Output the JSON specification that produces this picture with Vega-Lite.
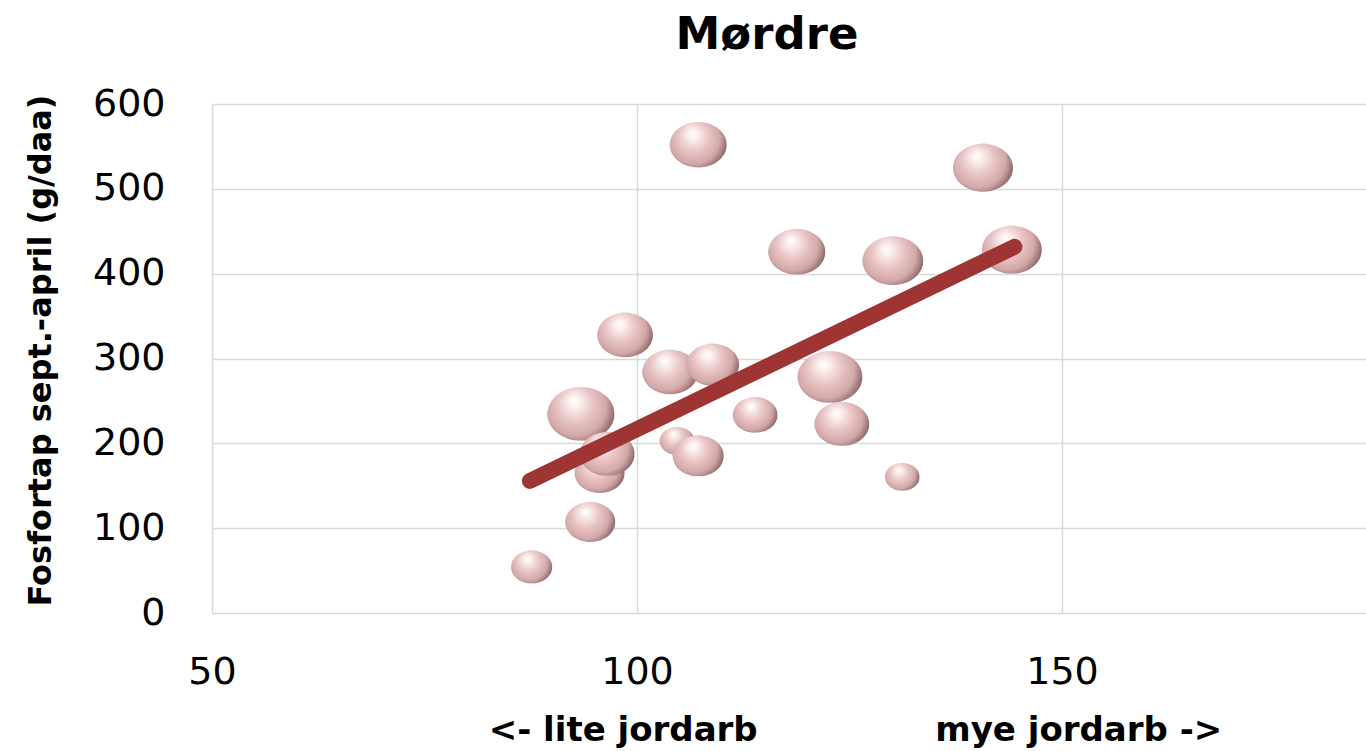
{
  "$schema": "https://vega.github.io/schema/vega-lite/v6.json",
  "autosize": {"type": "none"},
  "padding": {"left": 212, "top": 104, "right": 0, "bottom": 138},
  "width": 1154,
  "height": 509,
  "background": "white",
  "title": {
    "text": "Mørdre",
    "font": "DejaVu Sans",
    "fontSize": 45,
    "fontWeight": "bold",
    "color": "#000000",
    "frame": "group",
    "anchor": "middle",
    "offset": 27,
    "dx": -22
  },
  "config": {
    "view": {"stroke": null},
    "axis": {
      "labelFont": "DejaVu Sans",
      "labelFontSize": 38,
      "labelColor": "#000000",
      "titleFont": "DejaVu Sans",
      "titleFontWeight": "bold",
      "titleColor": "#000000",
      "gridColor": "#d9d9d9",
      "gridWidth": 1.5,
      "ticks": false,
      "tickSize": 0,
      "domain": false
    }
  },
  "datasets": {
    "bubbles": [
      {"x": 107.2, "y": 551.9, "s": 32.5},
      {"x": 140.7, "y": 524.8, "s": 36},
      {"x": 144.1, "y": 428.1, "s": 36},
      {"x": 130.1, "y": 415.1, "s": 37},
      {"x": 118.8, "y": 425.7, "s": 32.5},
      {"x": 98.6, "y": 327.8, "s": 31},
      {"x": 103.9, "y": 284.2, "s": 31},
      {"x": 108.9, "y": 292.5, "s": 28},
      {"x": 93.4, "y": 234.7, "s": 45},
      {"x": 122.7, "y": 278.3, "s": 42},
      {"x": 124.1, "y": 222.9, "s": 30},
      {"x": 113.9, "y": 233.5, "s": 20},
      {"x": 95.6, "y": 165.1, "s": 25},
      {"x": 96.5, "y": 187.5, "s": 30},
      {"x": 104.7, "y": 202.8, "s": 12},
      {"x": 107.2, "y": 185.1, "s": 26},
      {"x": 131.2, "y": 160.4, "s": 12},
      {"x": 94.5, "y": 107.3, "s": 25},
      {"x": 87.6, "y": 54.2, "s": 17}
    ],
    "trend": [
      {"x": 87.4, "y": 155.7},
      {"x": 144.4, "y": 431.6}
    ]
  },
  "layer": [
    {
      "data": {"name": "bubbles"},
      "mark": {
        "type": "point",
        "filled": true,
        "shape": "M-1,0A1,0.8,0,1,0,1,0A1,0.8,0,1,0,-1,0Z",
        "opacity": 1,
        "strokeWidth": 0,
        "fill": {
          "gradient": "radial",
          "x1": 0.4, "y1": 0.3, "r1": 0,
          "x2": 0.44, "y2": 0.42, "r2": 0.64,
          "stops": [
            {"offset": 0, "color": "#ffffff"},
            {"offset": 0.14, "color": "#fbeeee"},
            {"offset": 0.42, "color": "#e9c4c4"},
            {"offset": 0.7, "color": "#d2a8a8"},
            {"offset": 0.88, "color": "#957070"},
            {"offset": 1, "color": "#604242"}
          ]
        }
      },
      "encoding": {
        "x": {
          "field": "x", "type": "quantitative",
          "scale": {"domain": [50, 185.76], "nice": false, "zero": false},
          "axis": {
            "values": [50, 100, 150],
            "grid": true,
            "labelFlush": false,
            "labelPadding": 40,
            "labelBaseline": "top",
            "title": "<- lite jordarb\u00a0\u00a0\u00a0\u00a0\u00a0\u00a0\u00a0\u00a0\u00a0\u00a0\u00a0\u00a0\u00a0\u00a0\u00a0mye jordarb ->",
            "titleFontSize": 34,
            "titleX": 643,
            "titleY": 127,
            "titleAlign": "center",
            "titleBaseline": "alphabetic"
          }
        },
        "y": {
          "field": "y", "type": "quantitative",
          "scale": {"domain": [0, 600], "nice": false},
          "axis": {
            "values": [0, 100, 200, 300, 400, 500, 600],
            "grid": true,
            "labelPadding": 47,
            "title": "Fosfortap sept.-april (g/daa)",
            "titleFontSize": 32,
            "titleAngle": -90,
            "titleX": -172,
            "titleY": 246,
            "titleAlign": "center",
            "titleBaseline": "middle"
          }
        },
        "size": {
          "field": "s", "type": "quantitative",
          "scale": {"domain": [0, 50], "range": [0, 5000]},
          "legend": null
        }
      }
    },
    {
      "data": {"name": "trend"},
      "mark": {"type": "line", "color": "#9e3433", "strokeWidth": 16, "strokeCap": "round"},
      "encoding": {
        "x": {"field": "x", "type": "quantitative"},
        "y": {"field": "y", "type": "quantitative"}
      }
    }
  ]
}
